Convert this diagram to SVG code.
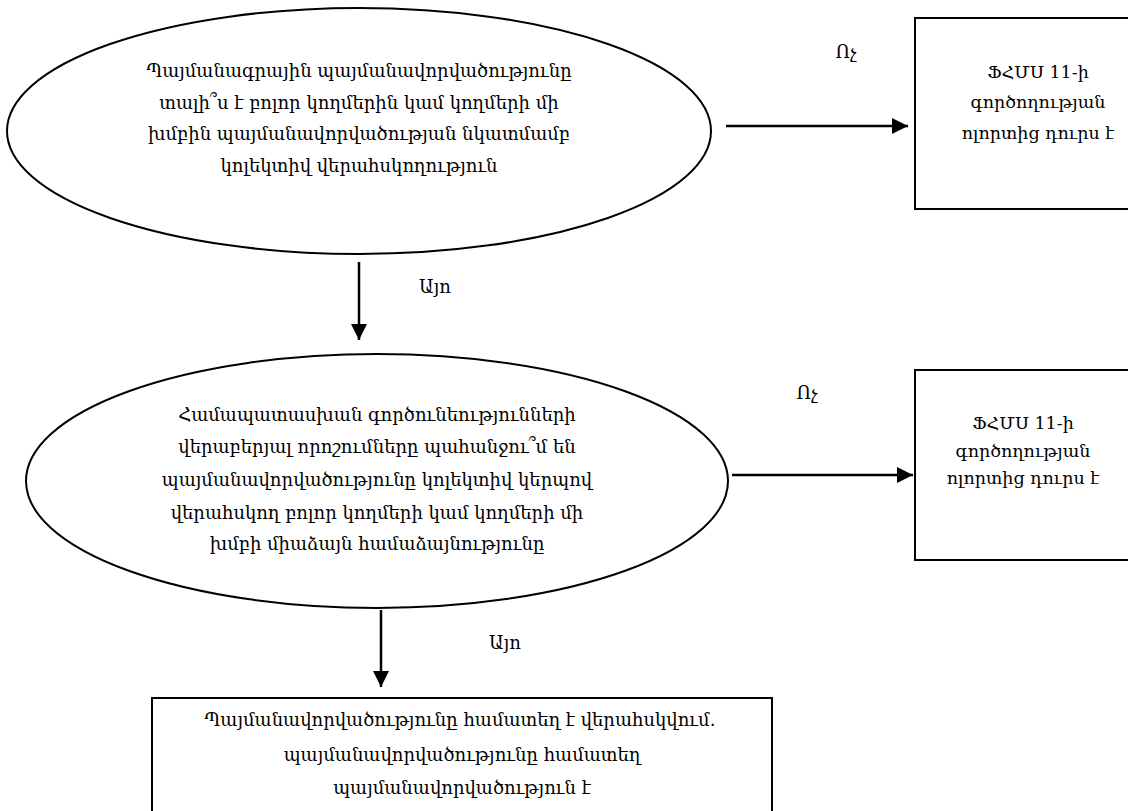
<svg xmlns="http://www.w3.org/2000/svg" width="1128" height="811" viewBox="0 0 1128 811">
<style>
  .shape { fill: #ffffff; stroke: #000000; stroke-width: 2; }
  .conn { stroke: #000000; stroke-width: 2.5; fill: none; }
  text { font-family: "DejaVu Serif", "Liberation Serif", serif; font-size: 18px; fill: #000000; text-anchor: middle; }
  .box { font-size: 17.5px; }
</style>
<defs>
  <marker id="arrow" viewBox="0 0 10 10" refX="10" refY="5" markerWidth="6.4" markerHeight="6.4" markerUnits="strokeWidth" orient="auto">
    <path d="M0,0 L10,5 L0,10 Z" fill="#000000"/>
  </marker>
</defs>
<rect x="0" y="0" width="1128" height="811" fill="#ffffff"/>

<g id="q1">
  <ellipse class="shape" cx="359" cy="131" rx="352" ry="123"/>
  <text x="359" y="77">Պայմանագրային պայմանավորվածությունը</text>
  <text x="359" y="109">տալի՞ս է բոլոր կողմերին կամ կողմերի մի</text>
  <text x="359" y="140">խմբին պայմանավորվածության նկատմամբ</text>
  <text x="359" y="172">կոլեկտիվ վերահսկողություն</text>
</g>

<g id="out1">
  <rect class="shape" x="915" y="18" width="220" height="191"/>
  <text class="box" x="1038" y="78">ՖՀՄՍ 11-ի</text>
  <text class="box" x="1038" y="108">գործողության</text>
  <text class="box" x="1038" y="139">ոլորտից դուրս է</text>
</g>

<g id="q2">
  <ellipse class="shape" cx="377" cy="481" rx="351" ry="127"/>
  <text x="377" y="421">Համապատասխան գործունեությունների</text>
  <text x="377" y="453">վերաբերյալ որոշումները պահանջու՞մ են</text>
  <text x="377" y="486">պայմանավորվածությունը կոլեկտիվ կերպով</text>
  <text x="377" y="519">վերահսկող բոլոր կողմերի կամ կողմերի մի</text>
  <text x="377" y="550">խմբի միաձայն համաձայնությունը</text>
</g>

<g id="out2">
  <rect class="shape" x="915" y="370" width="220" height="190"/>
  <text class="box" x="1023" y="429">ՖՀՄՍ 11-ի</text>
  <text class="box" x="1023" y="457">գործողության</text>
  <text class="box" x="1023" y="484">ոլորտից դուրս է</text>
</g>

<g id="joint">
  <rect class="shape" x="152" y="698" width="620" height="130"/>
  <text x="460" y="726">Պայմանավորվածությունը համատեղ է վերահսկվում.</text>
  <text x="462" y="761">պայմանավորվածությունը համատեղ</text>
  <text x="462" y="794">պայմանավորվածություն է</text>
</g>

<g id="connectors">
  <line class="conn" x1="726" y1="126" x2="908" y2="126" marker-end="url(#arrow)"/>
  <text x="846" y="58">Ոչ</text>
  <line class="conn" x1="359" y1="262" x2="359" y2="340" marker-end="url(#arrow)"/>
  <text x="435" y="293">Այո</text>
  <line class="conn" x1="732" y1="475" x2="913" y2="475" marker-end="url(#arrow)"/>
  <text x="807" y="399">Ոչ</text>
  <line class="conn" x1="381" y1="610" x2="381" y2="687" marker-end="url(#arrow)"/>
  <text x="505" y="649">Այո</text>
</g>
</svg>
